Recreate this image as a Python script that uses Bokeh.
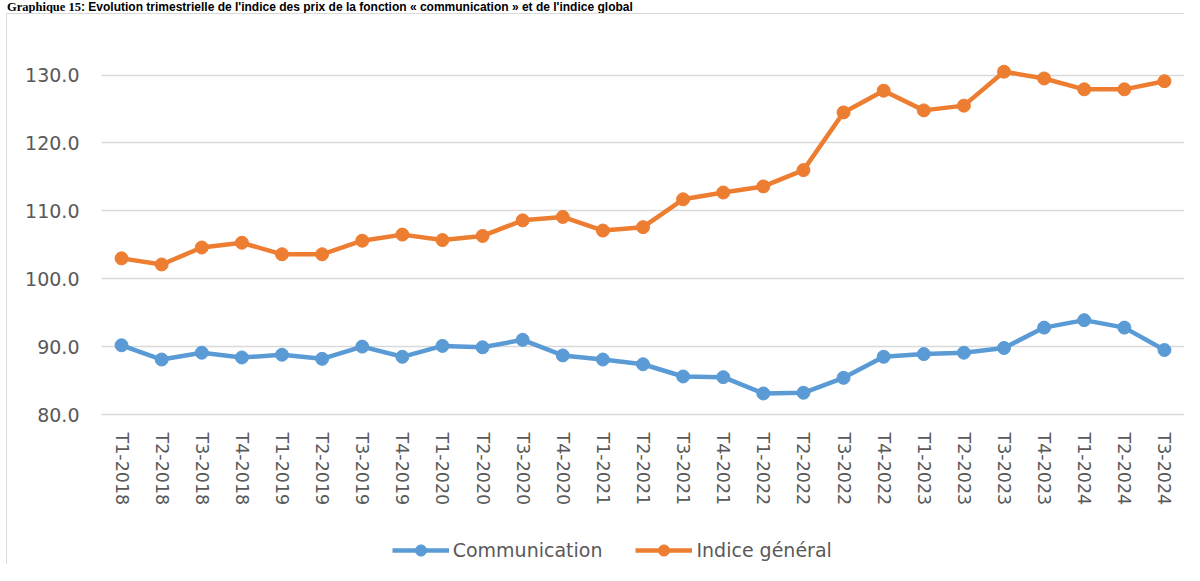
from bokeh.plotting import figure
from bokeh.layouts import column
from bokeh.models import (FactorRange, Range1d, FixedTicker, NumeralTickFormatter,
                          Legend, LegendItem, ColumnDataSource, Div)
from bokeh.embed import file_html
from bokeh.resources import INLINE

quarters = ["T1-2018", "T2-2018", "T3-2018", "T4-2018",
            "T1-2019", "T2-2019", "T3-2019", "T4-2019",
            "T1-2020", "T2-2020", "T3-2020", "T4-2020",
            "T1-2021", "T2-2021", "T3-2021", "T4-2021",
            "T1-2022", "T2-2022", "T3-2022", "T4-2022",
            "T1-2023", "T2-2023", "T3-2023", "T4-2023",
            "T1-2024", "T2-2024", "T3-2024"]

communication = [90.2, 88.1, 89.1, 88.4, 88.8, 88.2, 90.0, 88.5,
                 90.1, 89.9, 91.0, 88.7, 88.1, 87.4, 85.6, 85.5,
                 83.1, 83.2, 85.4, 88.5, 88.9, 89.1, 89.8, 92.8,
                 93.9, 92.8, 89.5]

indice_general = [103.0, 102.1, 104.6, 105.3, 103.6, 103.6, 105.6, 106.5,
                  105.7, 106.3, 108.6, 109.1, 107.1, 107.6, 111.7, 112.7,
                  113.6, 116.0, 124.5, 127.7, 124.8, 125.5, 130.5, 129.5,
                  127.9, 127.9, 129.1]

y_ticks = [80, 90, 100, 110, 120, 130]

series_names = ["Communication", "Indice général"]
title_part1 = "Graphique 15"
title_part2 = ": Evolution trimestrielle de l'indice des prix de la fonction « communication » et de l'indice global"

BLUE = "#5B9BD5"
ORANGE = "#ED7D31"
GRAY = "#595959"
GRID = "#D9D9D9"
W = 1192

# chart-area border drawn as CSS background lines behind transparent plot borders
LINE_LEFT = "linear-gradient(#d9d9d9,#d9d9d9) 14px 0 / 1px 100% no-repeat"
LINE_TOP = "linear-gradient(#d9d9d9,#d9d9d9) 14px 0 / 100% 1px no-repeat"

# ---- title strip (cropped in the source) ----
title_html = (
    '<div style="padding:9px 0 0 15px; line-height:12px; white-space:nowrap; color:#000;">'
    '<span style="font-family:\'Liberation Serif\'; font-weight:bold; font-size:12.5px;">'
    + title_part1 + '</span>'
    '<span style="font-family:\'Liberation Sans\'; font-weight:bold; font-size:12px;">'
    + title_part2 + '</span></div>'
)
title_div = Div(text=title_html, width=W, height=21, margin=0)

# ---- main chart ----
src = ColumnDataSource(dict(q=quarters, comm=communication, gen=indice_general))

p = figure(width=W, height=510,
           x_range=FactorRange(factors=quarters),
           y_range=Range1d(80, 132),
           output_backend="svg", toolbar_location=None,
           min_border_left=109, min_border_right=0,
           min_border_top=48, min_border_bottom=109)
p.outline_line_color = None
p.background_fill_color = "white"
p.border_fill_color = None
p.styles = {"background": LINE_LEFT + ", " + LINE_TOP + ", white"}

p.yaxis.ticker = FixedTicker(ticks=y_ticks)
p.yaxis.formatter = NumeralTickFormatter(format="0.0")
p.yaxis.axis_line_color = None
p.yaxis.major_tick_line_color = None
p.yaxis.minor_tick_line_color = None
p.yaxis.major_tick_out = 0
p.yaxis.major_tick_in = 0
p.yaxis.major_label_standoff = 22
p.yaxis.major_label_text_font = "DejaVu Sans"
p.yaxis.major_label_text_font_size = "19px"
p.yaxis.major_label_text_color = GRAY

p.xaxis.axis_line_color = GRID
p.xaxis.axis_line_width = 1.5
p.xaxis.major_tick_line_color = None
p.xaxis.minor_tick_line_color = None
p.xaxis.major_tick_out = 0
p.xaxis.major_tick_in = 0
p.xaxis.major_label_orientation = "vertical"
p.xaxis.major_label_standoff = 18
p.xaxis.major_label_text_font = "DejaVu Sans"
p.xaxis.major_label_text_font_size = "17.5px"
p.xaxis.major_label_text_color = GRAY

p.xgrid.grid_line_color = None
p.ygrid.ticker = FixedTicker(ticks=y_ticks)
p.ygrid.grid_line_color = GRID
p.ygrid.grid_line_width = 1.5

p.line("q", "comm", source=src, line_width=4.5, color=BLUE)
p.scatter("q", "comm", source=src, size=13, color=BLUE)
p.line("q", "gen", source=src, line_width=4.5, color=ORANGE)
p.scatter("q", "gen", source=src, size=13, color=ORANGE)

# ---- legend strip: same series, drawn outside its visible range, so only the legend shows ----
p_leg = figure(width=W, height=41, x_range=FactorRange(factors=quarters),
               y_range=Range1d(0, 1), output_backend="svg", toolbar_location=None,
               x_axis_location=None, y_axis_location=None,
               min_border=0, min_border_left=0, min_border_right=0,
               min_border_top=0, min_border_bottom=0)
p_leg.grid.visible = False
p_leg.outline_line_color = None
p_leg.background_fill_color = "white"
p_leg.border_fill_color = None
p_leg.styles = {"background": LINE_LEFT + ", white"}

l1 = p_leg.line("q", "comm", source=src, line_width=4.5, color=BLUE)
m1 = p_leg.scatter("q", "comm", source=src, size=13, color=BLUE)
l2 = p_leg.line("q", "gen", source=src, line_width=4.5, color=ORANGE)
m2 = p_leg.scatter("q", "gen", source=src, size=13, color=ORANGE)
legend = Legend(items=[LegendItem(label=series_names[0], renderers=[l1, m1]),
                       LegendItem(label=series_names[1], renderers=[l2, m2])],
                orientation="horizontal", location=(290.7, 0),
                glyph_width=57, glyph_height=28, label_height=28,
                label_standoff=4, spacing=33, padding=0, margin=0,
                border_line_color=None, background_fill_alpha=0,
                label_text_font="DejaVu Sans", label_text_font_size="19px",
                label_text_color=GRAY)
p_leg.add_layout(legend, "center")

layout = column(title_div, p, p_leg, spacing=0)
layout.margin = (-8, 0, 0, -8)

open("out.html", "w", encoding="utf-8").write(file_html(layout, INLINE))
